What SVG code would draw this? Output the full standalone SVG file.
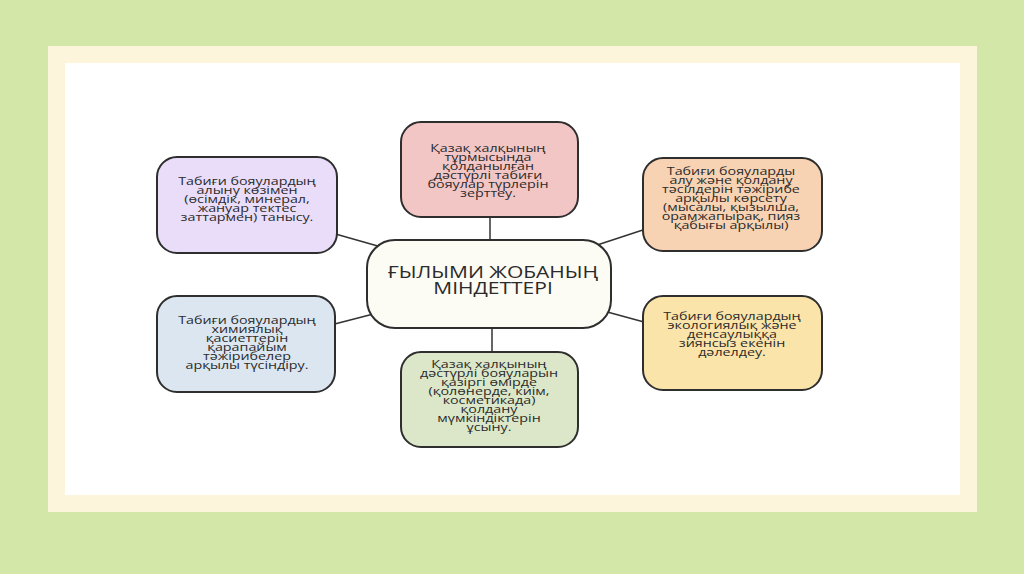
<svg xmlns="http://www.w3.org/2000/svg" width="1024" height="574" viewBox="0 0 1024 574">
<style>
.box{stroke:#2e2e2e;stroke-width:2}
.t{font-family:"Open Sans","Noto Sans","DejaVu Sans",sans-serif;font-size:14.3px;fill:#2b2b2b;text-anchor:middle}
.title{font-family:"Open Sans","Noto Sans","DejaVu Sans",sans-serif;font-size:21px;fill:#2b2b2b;text-anchor:middle}
.conn{stroke:#333;stroke-width:1.5;fill:none}
</style>
<rect x="0" y="0" width="1024" height="574" fill="#d3e7a9"/>
<rect x="48" y="46" width="929" height="466" fill="#fdf4dc"/>
<rect x="65" y="63" width="895" height="432" fill="#ffffff"/>
<g id="connectors">
<line class="conn" x1="490" y1="200" x2="490" y2="260"/>
<line class="conn" x1="492" y1="320" x2="492" y2="370"/>
<line class="conn" x1="325" y1="231" x2="390" y2="249.5"/>
<line class="conn" x1="325" y1="326.6" x2="385" y2="311"/>
<line class="conn" x1="655" y1="226" x2="585" y2="249"/>
<line class="conn" x1="655" y1="325" x2="600" y2="310"/>
</g>
<g id="node-center">
<rect class="box" x="367" y="240" width="244" height="88" rx="28" fill="#fdfcf4"/>
<text class="title" transform="translate(493,278.3) scale(1,0.75)"><tspan x="0" y="0">ҒЫЛЫМИ ЖОБАНЫҢ</tspan><tspan x="0" dy="20.9">МІНДЕТТЕРІ</tspan></text>
</g>
<g id="node-top">
<rect class="box" x="401" y="122" width="177" height="95" rx="20" fill="#f3c6c6"/>
<text class="t" transform="translate(488,152) scale(1,0.72)"><tspan x="0" y="0">Қазақ халқының</tspan><tspan x="0" dy="12.5">тұрмысында</tspan><tspan x="0" dy="12.5">қолданылған</tspan><tspan x="0" dy="12.5">дәстүрлі табиғи</tspan><tspan x="0" dy="12.5">бояулар түрлерін</tspan><tspan x="0" dy="12.5">зерттеу.</tspan></text>
</g>
<g id="node-top-left">
<rect class="box" x="157" y="157" width="180" height="96" rx="20" fill="#e9ddfa"/>
<text class="t" transform="translate(247,185.1) scale(1,0.72)"><tspan x="0" y="0">Табиғи бояулардың</tspan><tspan x="0" dy="12.5">алыну көзімен</tspan><tspan x="0" dy="12.5">(өсімдік, минерал,</tspan><tspan x="0" dy="12.5">жануар тектес</tspan><tspan x="0" dy="12.5">заттармен) танысу.</tspan></text>
</g>
<g id="node-top-right">
<rect class="box" x="643" y="158" width="179" height="93" rx="20" fill="#f8d3b3"/>
<text class="t" transform="translate(731,174.6) scale(1,0.72)"><tspan x="0" y="0">Табиғи бояуларды</tspan><tspan x="0" dy="12.5">алу және қолдану</tspan><tspan x="0" dy="12.5">тәсілдерін тәжірибе</tspan><tspan x="0" dy="12.5">арқылы көрсету</tspan><tspan x="0" dy="12.5">(мысалы, қызылша,</tspan><tspan x="0" dy="12.5">орамжапырақ, пияз</tspan><tspan x="0" dy="12.5">қабығы арқылы)</tspan></text>
</g>
<g id="node-bottom-left">
<rect class="box" x="157" y="296" width="178" height="96" rx="20" fill="#dbe6f1"/>
<text class="t" transform="translate(247,324.3) scale(1,0.72)"><tspan x="0" y="0">Табиғи бояулардың</tspan><tspan x="0" dy="12.5">химиялық</tspan><tspan x="0" dy="12.5">қасиеттерін</tspan><tspan x="0" dy="12.5">қарапайым</tspan><tspan x="0" dy="12.5">тәжірибелер</tspan><tspan x="0" dy="12.5">арқылы түсіндіру.</tspan></text>
</g>
<g id="node-bottom-right">
<rect class="box" x="643" y="296" width="179" height="94" rx="20" fill="#fbe4a9"/>
<text class="t" transform="translate(732,320) scale(1,0.72)"><tspan x="0" y="0">Табиғи бояулардың</tspan><tspan x="0" dy="12.5">экологиялық және</tspan><tspan x="0" dy="12.5">денсаулыққа</tspan><tspan x="0" dy="12.5">зиянсыз екенін</tspan><tspan x="0" dy="12.5">дәлелдеу.</tspan></text>
</g>
<g id="node-bottom">
<rect class="box" x="401" y="352" width="177" height="95" rx="20" fill="#dbe7c8"/>
<text class="t" transform="translate(489,367.6) scale(1,0.72)"><tspan x="0" y="0">Қазақ халқының</tspan><tspan x="0" dy="12.5">дәстүрлі бояуларын</tspan><tspan x="0" dy="12.5">қазіргі өмірде</tspan><tspan x="0" dy="12.5">(қолөнерде, киім,</tspan><tspan x="0" dy="12.5">косметикада)</tspan><tspan x="0" dy="12.5">қолдану</tspan><tspan x="0" dy="12.5">мүмкіндіктерін</tspan><tspan x="0" dy="12.5">ұсыну.</tspan></text>
</g>
</svg>
